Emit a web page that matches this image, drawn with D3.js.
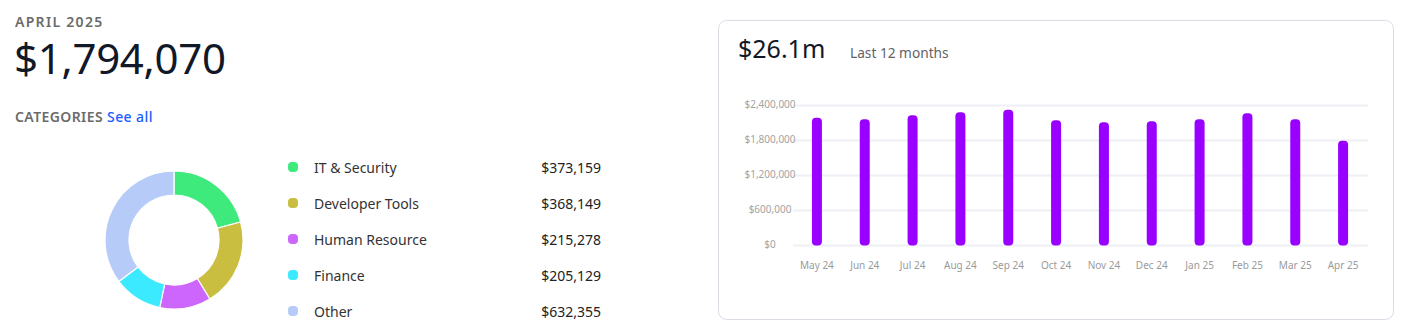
<!DOCTYPE html>
<html>
<head>
<meta charset="utf-8">
<script src="https://cdn.jsdelivr.net/npm/d3@7"></script>
<style>
  html, body { margin: 0; padding: 0; background: #fff; }
  svg { display: block; font-family: "Noto Sans", "Open Sans", sans-serif; }
</style>
</head>
<body>
<svg id="chart" width="1408" height="334"></svg>
<script>
// ---- data ----
const categories = ["IT & Security", "Developer Tools", "Human Resource", "Finance", "Other"];
const categoryValues = [373159, 368149, 215278, 205129, 632355];
const categoryColors = ["#3fea7c", "#c9be40", "#cd66fd", "#3ceaff", "#b7cbf8"];

const months = ["May 24", "Jun 24", "Jul 24", "Aug 24", "Sep 24", "Oct 24", "Nov 24", "Dec 24", "Jan 25", "Feb 25", "Mar 25", "Apr 25"];
const monthlyTotals = [2190000, 2163000, 2232000, 2283000, 2328000, 2146000, 2112000, 2129000, 2163000, 2266000, 2163000, 1794070];
const yTicks = [0, 600000, 1200000, 1800000, 2400000];

const periodLabel = "APRIL 2025";
const yearTotalLabel = "$26.1m";

const svg = d3.select("#chart");
const fmt = d3.format("$,");

// ---- left header ----
svg.append("text").attr("x", 15).attr("y", 27)
  .attr("font-size", 14).attr("font-weight", 600).attr("fill", "#6b6b6b")
  .attr("letter-spacing", 1.3)
  .text(periodLabel);
svg.append("text").attr("x", 14).attr("y", 74)
  .attr("font-size", 42).attr("fill", "#111827").attr("letter-spacing", -0.3)
  .text(fmt(d3.sum(categoryValues)));
const cat = svg.append("text").attr("x", 15).attr("y", 122)
  .attr("font-size", 14).attr("font-weight", 600).attr("fill", "#6b6b6b")
  .attr("letter-spacing", 0.4);
cat.append("tspan").text("CATEGORIES ");
cat.append("tspan").attr("fill", "#1a5cff").attr("font-weight", 500).text("See all");

// ---- donut ----
const pie = d3.pie().sort(null).value(d => d)(categoryValues);
const arc = d3.arc().innerRadius(45).outerRadius(69);
const donut = svg.append("g").attr("transform", "translate(174,240)");
donut.selectAll("path").data(pie).join("path")
  .attr("d", arc)
  .attr("fill", (d, i) => categoryColors[i])
  .attr("stroke", "#fff").attr("stroke-width", 1.2);

// ---- legend ----
const ly = d3.scalePoint().domain(categories).range([167, 311]);
const leg = svg.append("g");
const rows = leg.selectAll("g").data(categories).join("g")
  .attr("transform", d => `translate(0,${ly(d)})`);
rows.append("rect").attr("x", 288).attr("y", -5).attr("width", 10).attr("height", 10)
  .attr("rx", 4).attr("fill", (d, i) => categoryColors[i]);
rows.append("text").attr("x", 314).attr("y", 1).attr("dy", "0.35em")
  .attr("font-size", 14).attr("fill", "#333")
  .text(d => d);
rows.append("text").attr("x", 601).attr("y", 1).attr("dy", "0.35em").attr("text-anchor", "end")
  .attr("font-size", 14).attr("fill", "#222")
  .text((d, i) => fmt(categoryValues[i]));

// ---- card ----
svg.append("rect").attr("x", 718.5).attr("y", 20.5).attr("width", 675).attr("height", 299)
  .attr("rx", 8).attr("fill", "#fff").attr("stroke", "#d8dde4").attr("stroke-width", 1);
svg.append("text").attr("x", 738).attr("y", 58)
  .attr("font-size", 25).attr("fill", "#111827").text(yearTotalLabel);
svg.append("text").attr("x", 850).attr("y", 58)
  .attr("font-size", 13.7).attr("fill", "#5f6368").text("Last 12 months");

// ---- bar chart ----
const x = d3.scaleBand().domain(months).range([793, 1367]).paddingInner(0).paddingOuter(0);
const y = d3.scaleLinear().domain([0, 2400000]).range([245.5, 105.5]);

const grid = svg.append("g");
grid.selectAll("line").data(yTicks).join("line")
  .attr("x1", 793).attr("x2", 1368)
  .attr("y1", d => y(d)).attr("y2", d => y(d))
  .attr("stroke", "#eef0f6").attr("stroke-width", 2);

const yAxis = svg.append("g").attr("transform", "translate(770,0)")
  .call(d3.axisLeft(y).tickValues(yTicks).tickFormat(fmt).tickSize(0).tickPadding(0));
yAxis.select(".domain").remove();
yAxis.selectAll("text").attr("font-size", 10).attr("fill", "#a3a3a3")
  .attr("text-anchor", "middle").attr("y", -1.5)
  .attr("font-family", "'Noto Sans', sans-serif");

const xAxis = svg.append("g").attr("transform", "translate(0,262)")
  .call(d3.axisBottom(x).tickSize(0).tickPadding(0));
xAxis.select(".domain").remove();
xAxis.selectAll("text").attr("font-size", 10).attr("fill", "#9a9a9a").attr("dy", "0.71em")
  .attr("font-family", "'Noto Sans', sans-serif");

const bw = 10;
svg.append("g").selectAll("rect").data(months).join("rect")
  .attr("x", d => x(d) + x.bandwidth() / 2 - bw / 2)
  .attr("width", bw)
  .attr("y", (d, i) => y(monthlyTotals[i]))
  .attr("height", (d, i) => y(0) - y(monthlyTotals[i]))
  .attr("rx", 4)
  .attr("fill", "#9900ff");
</script>
</body>
</html>
